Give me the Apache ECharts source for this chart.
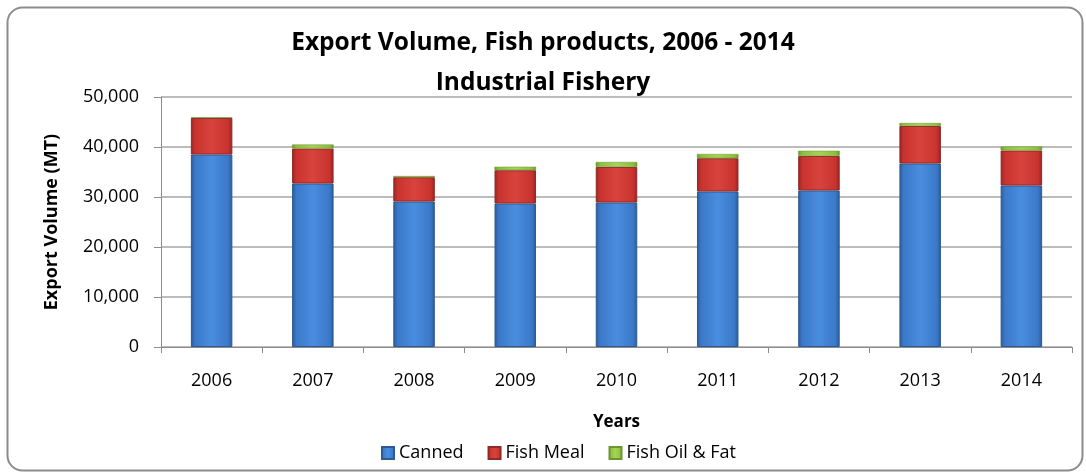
<!DOCTYPE html>
<html><head><meta charset="utf-8">
<script src="https://cdn.jsdelivr.net/npm/echarts@6/dist/echarts.min.js"></script>
<style>html,body{margin:0;padding:0;background:#fff}#c{width:1086px;height:473px}</style>
</head><body><div id="c"></div>
<script>
const years = ['2006','2007','2008','2009','2010','2011','2012','2013','2014'];
const canned = [38500, 32700, 29100, 28700, 28900, 31100, 31300, 36700, 32300];
const fishMeal = [7300, 7000, 4850, 6650, 7100, 6650, 6900, 7500, 7000];
const fishOil = [150, 800, 250, 700, 1000, 850, 1050, 600, 800];
const yTicks = [0, 10000, 20000, 30000, 40000, 50000];

const font = '"Open Sans", sans-serif';
function grad(light, mid, dark){
  return new echarts.graphic.LinearGradient(0,0,1,0,[
    {offset:0,color:dark},{offset:0.1,color:mid},{offset:0.5,color:light},{offset:0.9,color:mid},{offset:1,color:dark}]);
}
const chart = echarts.init(document.getElementById('c'));
chart.setOption({
  animation:false,
  graphic:[{type:'rect',left:5,top:5,shape:{width:1075,height:463,r:15},
    style:{fill:'none',stroke:'#8c8c8c',lineWidth:2},silent:true}],
  title:{text:'Export Volume, Fish products, 2006 - 2014\nIndustrial Fishery',left:'center',top:23,padding:0,
    textStyle:{fontFamily:font,fontSize:24.5,fontWeight:'bold',color:'#000',lineHeight:40}},
  legend:{top:439,left:376,itemWidth:12,itemHeight:12,itemGap:24,icon:'rect',
    textStyle:{fontFamily:font,fontSize:18,color:'#000',padding:[0,0,0,0]},
    data:['Canned','Fish Meal','Fish Oil & Fat']},
  grid:{left:161,right:14,top:97,bottom:126},
  xAxis:{type:'category',data:years,name:'Years',nameLocation:'middle',nameGap:67,
    nameTextStyle:{fontFamily:font,fontSize:17,fontWeight:'bold',color:'#000'},
    axisLine:{lineStyle:{color:'#8c8c8c'}},axisTick:{show:true,length:6,lineStyle:{color:'#8c8c8c'}},
    axisLabel:{fontFamily:font,fontSize:18,color:'#000',margin:25}},
  yAxis:{type:'value',min:0,max:50000,interval:10000,name:'Export Volume (MT)',nameLocation:'middle',nameGap:100,
    nameTextStyle:{fontFamily:font,fontSize:18,fontWeight:'bold',color:'#000'},
    axisLine:{show:true,lineStyle:{color:'#8c8c8c'}},axisTick:{show:true,length:7,lineStyle:{color:'#8c8c8c'}},
    splitLine:{lineStyle:{color:'#a6a6a6',width:1.5}},
    axisLabel:{fontFamily:font,fontSize:18,color:'#000',margin:22,
      formatter:v=>yTicks.includes(v)?v.toLocaleString('en-US'):''}},
  series:[
    {name:'Canned',type:'bar',stack:'a',barWidth:'41%',data:canned,
      itemStyle:{color:grad('#4a8ddf','#3b78c8','#2a5a98'),borderColor:'#2d5a92',borderWidth:1}},
    {name:'Fish Meal',type:'bar',stack:'a',data:fishMeal,
      itemStyle:{color:grad('#d8433d','#c9332f','#962421'),borderColor:'#8f2a27',borderWidth:1}},
    {name:'Fish Oil & Fat',type:'bar',stack:'a',data:fishOil,
      itemStyle:{color:grad('#a6d356','#8cbf3f','#6a9a2c'),borderColor:'#6f9433',borderWidth:0.5}}
  ]
});
</script></body></html>
